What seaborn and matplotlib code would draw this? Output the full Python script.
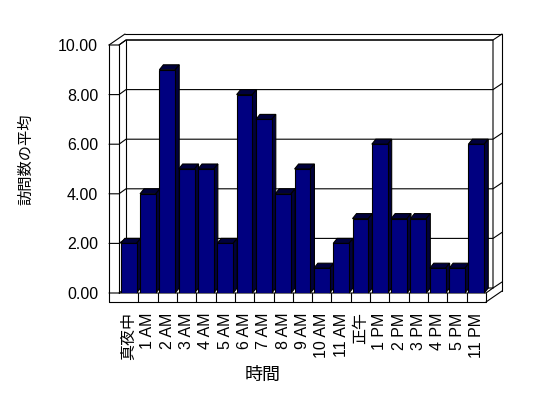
import matplotlib
matplotlib.use('Agg')
import matplotlib.pyplot as plt
from matplotlib.patches import Polygon
from matplotlib.lines import Line2D
from matplotlib.transforms import IdentityTransform
import seaborn as sns

# data
hours = ['真夜中', '1 AM', '2 AM', '3 AM', '4 AM', '5 AM', '6 AM', '7 AM',
         '8 AM', '9 AM', '10 AM', '11 AM', '正午', '1 PM', '2 PM', '3 PM',
         '4 PM', '5 PM', '11 PM']
visits = [2, 4, 9, 5, 5, 2, 8, 7, 4, 5, 1, 2, 3, 6, 3, 3, 1, 1, 6]
yticks = [0, 2, 4, 6, 8, 10]
ytick_labels = ['0.00', '2.00', '4.00', '6.00', '8.00', '10.00']

FRONT = '#000080'
SHADE = '#00003c'

sns.set_style('white')
plt.rcParams['font.family'] = ['Liberation Sans', 'Noto Sans CJK JP']
for key in ('text.color', 'axes.labelcolor', 'xtick.color', 'ytick.color'):
    plt.rcParams[key] = 'black'

fig = plt.figure(figsize=(5.48, 3.98), dpi=100)
ax = fig.add_axes([119 / 548, 105 / 398, 367 / 548, 248 / 398])

sns.barplot(x=hours, y=visits, order=hours, color=FRONT, saturation=1,
            width=0.82, edgecolor='black', linewidth=0.8, ax=ax)
ax.set_xlim(-0.5, len(hours) - 0.5)
ax.set_ylim(0, 10)
ax.patch.set_visible(False)
sns.despine(ax=ax, left=True, bottom=True)
ax.set_yticks(yticks, ytick_labels)
ax.tick_params(length=0)
ax.tick_params(axis='y', pad=15, labelsize=11.5)
ax.tick_params(axis='x', pad=14, labelsize=11.5, rotation=90)
ax.set_xlabel('時間', fontsize=13, va='center')
ax.set_ylabel('訪問数の平均', fontsize=11, va='center')
ax.xaxis.set_label_coords(0.39, -0.333)
ax.yaxis.set_label_coords(-0.253, 0.54)

# --- fake 3D box (pixel offsets, Excel style) ---
ident = IdentityTransform()
WALL = 10      # left wall thickness
FLOOR = 9      # floor thickness
DW = (7, 5)    # depth to back wall face
DO = (16, 11)  # depth to outer back edge
DB = (4, 5)    # bar depth


def disp(x, y):
    return ax.transData.transform((x, y))


def line(pts, z=1):
    xs, ys = zip(*pts)
    ax.add_line(Line2D(xs, ys, transform=ident, color='black', lw=0.8,
                       zorder=z, clip_on=False))


XL, Y0 = disp(-0.5, 0)
XR, Y10 = disp(len(hours) - 0.5, 10)

# left wall
line([(XL - WALL, Y10), (XL - WALL, Y0 - FLOOR)])
line([(XL, Y10), (XL, Y0)])
line([(XL - WALL, Y10), (XL - WALL + DO[0], Y10 + DO[1])])
line([(XL + DW[0], Y10 + DW[1]), (XL + DW[0], Y0 + DW[1])])
# back wall
line([(XL - WALL + DO[0], Y10 + DO[1]), (XR + DO[0], Y10 + DO[1]),
      (XR + DO[0], Y0 - FLOOR + DO[1])])
line([(XL, Y10), (XL + DW[0], Y10 + DW[1]), (XR + DW[0], Y10 + DW[1]),
      (XR + DW[0], Y0 + DW[1])])
# floor
line([(XL - WALL, Y0 - FLOOR), (XR, Y0 - FLOOR), (XR, Y0)])
line([(XL, Y0), (XR, Y0), (XR + DW[0], Y0 + DW[1])])
line([(XR, Y0 - FLOOR), (XR + DO[0], Y0 - FLOOR + DO[1])])
for i in range(1, len(hours)):
    xd, _ = disp(i - 0.5, 0)
    line([(xd, Y0), (xd, Y0 - FLOOR)])

# gridlines along left wall and back wall
for v in yticks:
    _, yv = disp(0, v)
    line([(XL - WALL, yv), (XL, yv), (XL + DW[0], yv + DW[1]),
          (XR + DW[0], yv + DW[1]), (XR + DO[0], yv + DO[1])])

# bar tops and sides
for i, bar in enumerate(ax.patches):
    x0 = bar.get_x()
    x1 = x0 + bar.get_width()
    px0, py0 = disp(x0, 0)
    px1, py1 = disp(x1, bar.get_height())
    dx, dy = DB
    top = [(px0, py1), (px1, py1), (px1 + dx, py1 + dy), (px0 + dx, py1 + dy)]
    side = [(px1, py0), (px1 + dx, py0 + dy), (px1 + dx, py1 + dy), (px1, py1)]
    for verts in (top, side):
        ax.add_patch(Polygon(verts, closed=True, transform=ident,
                             facecolor=SHADE, edgecolor='black', lw=0.8,
                             zorder=2 + i * 0.1, clip_on=False))
    bar.set_zorder(2 + i * 0.1 + 0.05)

fig.savefig('out.png', dpi=100)
